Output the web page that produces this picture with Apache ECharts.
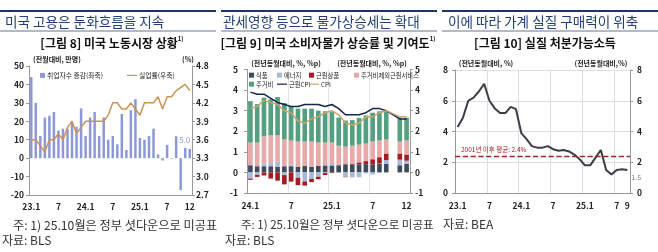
<!DOCTYPE html>
<html>
<head>
<meta charset="utf-8">
<script src="https://cdn.jsdelivr.net/npm/echarts@6/dist/echarts.min.js"></script>
<style>
html, body { margin: 0; padding: 0; background: #fff; }
#chart { width: 658px; height: 252px; }
</style>
</head>
<body>
<div id="chart"></div>
<script>
var FONT = "'Noto Sans CJK KR', 'Noto Sans', sans-serif";

// [그림 8] 미국 노동시장
var months1 = ['23.1','23.2','23.3','23.4','23.5','23.6','23.7','23.8','23.9','23.10','23.11','23.12',
               '24.1','24.2','24.3','24.4','24.5','24.6','24.7','24.8','24.9','24.10','24.11','24.12',
               '25.1','25.2','25.3','25.4','25.5','25.6','25.7','25.8','25.9','25.10','25.11','25.12'];
var jobs = [44, 30, 12, 22, 23, 25, 15, 16, 16, 19, 17, 27,
            12, 22, 25, 12, 22, 10, 12, 7.5, 24, 4.4, 26, 32,
            11, 10, 12, 16, 2, -1.3, 7.2, -0.4, 11.9, -17.3, 5.6, 5.0];
var unemp = [3.6, 3.6, 3.5, 3.4, 3.6, 3.6, 3.7, 3.6, 3.8, 3.9, 3.7, 3.8,
             3.9, 3.9, 3.9, 3.9, 3.9, 4.0, 4.2, 4.2, 4.1, 4.1, 4.2, 4.1,
             4.0, 4.2, 4.2, 4.2, 4.3, 4.1, 4.3, 4.3, 4.4, null, 4.5, 4.4];

// [그림 9] 미국 소비자물가 상승률 및 기여도
var months2 = ['24.1','24.2','24.3','24.4','24.5','24.6','24.7','24.8','24.9','24.10','24.11','24.12',
               '25.1','25.2','25.3','25.4','25.5','25.6','25.7','25.8','25.9','25.10','25.11','25.12'];
var food = [0.35,0.30,0.30,0.30,0.28,0.30,0.30,0.28,0.31,0.28,0.32,0.34,
            0.34,0.35,0.40,0.38,0.39,0.40,0.39,0.43,0.42,null,0.35,0.42];
var energy = [-0.30,-0.12,0.14,0.17,0.24,-0.13,0.07,-0.26,-0.44,-0.32,-0.21,-0.03,
              0.07,-0.01,-0.21,-0.24,-0.23,-0.05,-0.10,0.01,0.18,null,0.27,0.15];
var coreGoods = [-0.06,-0.10,-0.15,-0.30,-0.40,-0.45,-0.45,-0.36,-0.20,-0.15,-0.12,-0.10,
                 -0.03,0.00,-0.02,0.05,0.10,0.15,0.25,0.30,0.32,null,0.30,0.30];
var servEx = [1.10,1.15,1.31,1.33,1.28,1.30,1.18,1.22,1.19,1.22,1.13,1.11,
              1.04,0.95,0.85,0.87,0.86,0.85,0.86,0.81,0.68,null,0.58,0.68];
var shelter = [2.01,1.87,1.88,1.75,1.86,1.77,1.66,1.60,1.60,1.60,1.55,1.52,
               1.48,1.36,1.27,1.24,1.30,1.37,1.40,1.42,1.35,null,1.16,1.11];
var coreCpi = [3.9,3.8,3.8,3.6,3.4,3.3,3.2,3.2,3.3,3.3,3.3,3.2,
               3.3,3.1,2.8,2.8,2.8,2.9,3.1,3.1,3.0,null,2.6,2.6];
var cpi = [3.1,3.2,3.5,3.4,3.3,3.0,2.9,2.5,2.4,2.6,2.7,2.9,
           3.0,2.8,2.4,2.3,2.4,2.7,2.7,2.9,3.0,null,2.7,2.7];

// [그림 10] 실질 처분가능소득
var months3 = ['23.1','23.2','23.3','23.4','23.5','23.6','23.7','23.8','23.9','23.10','23.11','23.12',
               '24.1','24.2','24.3','24.4','24.5','24.6','24.7','24.8','24.9','24.10','24.11','24.12',
               '25.1','25.2','25.3','25.4','25.5','25.6','25.7','25.8','25.9'];
var rdi = [4.3,4.9,6.0,6.2,6.6,7.1,6.0,5.5,5.2,5.2,5.6,5.45,
           3.9,3.5,3.05,2.95,2.95,3.05,2.85,2.75,2.8,2.7,2.5,2.2,
           1.8,1.8,2.3,2.8,1.5,1.2,1.5,1.55,1.5];
var avg2001 = 2.4;

var labelIdx1 = [0, 6, 12, 18, 24, 30, 35];
var labelIdx2 = [0, 6, 12, 18, 23];
var labelIdx3 = [0, 6, 12, 18, 24, 30, 32];

function monthLabel(v) {
    var p = v.split('.');
    return p[1] === '1' ? v : p[1];
}

var tickText = { fontSize: 8.5, color: '#222', fontWeight: 'bold', fontFamily: FONT };
var axisGray = { color: '#9a9a9a', width: 1 };
var LINE_ICON = 'path://M0,0h20v2.4h-20z';

function catAxis(grid, data, idx, margin) {
    return {
        type: 'category', gridIndex: grid, data: data,
        axisLine: { show: true, onZero: false, lineStyle: axisGray },
        axisTick: { show: false },
        axisLabel: Object.assign({}, tickText, {
            margin: margin,
            interval: function (i) { return idx.indexOf(i) >= 0; },
            formatter: monthLabel
        }),
        splitLine: { show: false }
    };
}

function valAxis(grid, pos, min, max, step, margin, digits) {
    return {
        type: 'value', gridIndex: grid, position: pos, min: min, max: max, interval: step,
        axisLine: { show: true, lineStyle: axisGray },
        axisTick: { show: true, length: 3, lineStyle: axisGray },
        axisLabel: Object.assign({}, tickText, {
            margin: margin,
            formatter: function (v) { return digits ? v.toFixed(digits) : String(Math.round(v)); }
        }),
        splitLine: { show: false }
    };
}

function legendAt(name, left, top, w, h, icon, size) {
    return {
        data: [{ name: name, icon: icon || 'rect' }], left: left, top: top, padding: 0,
        itemWidth: w, itemHeight: h, selectedMode: false,
        textStyle: { fontSize: size || 6.3, color: '#222', fontFamily: FONT, padding: [0, 0, 0, -3] }
    };
}

function txt(x, y, text, size, color, align, weight) {
    return {
        type: 'text', x: x, y: y, silent: true,
        style: {
            text: text, fill: color, align: align || 'left', verticalAlign: 'middle',
            fontSize: size, fontFamily: FONT, fontWeight: weight || 'normal'
        }
    };
}

function header(x0, x1, title, titleX, sub, subX) {
    return [
        { type: 'rect', shape: { x: x0, y: 10, width: x1 - x0, height: 2 }, style: { fill: '#1f3563' } },
        txt(titleX, 22, title, 13.6, '#233f78', 'left'),
        { type: 'rect', shape: { x: x0, y: 30.5, width: x1 - x0, height: 1 }, style: { fill: '#6b7591' } },
        {
            type: 'text', x: subX, y: 43, silent: true,
            style: {
                text: '{a|' + sub + '}{s|1)}',
                align: 'center', verticalAlign: 'middle',
                rich: {
                    a: { fontSize: 12, fontWeight: 'bold', fontFamily: FONT, fill: '#111', lineHeight: 14 },
                    s: { fontSize: 6, fontWeight: 'bold', fontFamily: FONT, fill: '#111', verticalAlign: 'top', lineHeight: 14 }
                }
            }
        }
    ];
}

var graphics = []
    .concat(header(0, 216, '미국 고용은 둔화흐름을 지속', 5, '[그림 8] 미국 노동시장 상황', 112))
    .concat(header(221, 437, '관세영향 등으로 물가상승세는 확대', 223, '[그림 9] 미국 소비자물가 상승률 및 기여도', 328))
    .concat([
        { type: 'rect', shape: { x: 442, y: 10, width: 216, height: 2 }, style: { fill: '#1f3563' } },
        txt(448, 22, '이에 따라 가계 실질 구매력이 위축', 13.6, '#233f78', 'left'),
        { type: 'rect', shape: { x: 442, y: 30.5, width: 216, height: 1 }, style: { fill: '#6b7591' } },
        txt(545, 43, '[그림 10] 실질 처분가능소득', 12, '#111', 'center', 'bold')
    ])
    .concat([
        txt(57, 59, '(전월대비, 만명)', 7, '#222', 'center', 'bold'),
        txt(188, 59, '(%)', 7, '#222', 'center', 'bold'),
        txt(286, 63, '(전년동월대비, %, %p)', 7, '#222', 'center', 'bold'),
        txt(372, 63, '(전년동월대비, %, %p)', 7, '#222', 'center', 'bold'),
        txt(486, 63, '(전년동월대비, %)', 7, '#222', 'center', 'bold'),
        txt(601, 63, '(전년동월대비,%)', 7, '#222', 'center', 'bold'),
        txt(13, 225, '주: 1) 25.10월은 정부 셧다운으로 미공표', 12.2, '#333'),
        txt(2, 240, '자료: BLS', 12, '#333'),
        txt(241, 225, '주: 1) 25.10월은 정부 셧다운으로 미공표', 11.5, '#333'),
        txt(225, 240, '자료: BLS', 12, '#333'),
        txt(443, 224, '자료: BEA', 12, '#333')
    ]);

var last1 = jobs.length - 1;

var option = {
    animation: false,
    textStyle: { fontFamily: FONT },
    graphic: graphics,
    legend: [
        legendAt('취업자수 증감(좌축)', 40, 72, 5, 5, 'rect', 6.8),
        legendAt('실업률(우축)', 127, 72, 10, 5, LINE_ICON, 6.8),
        legendAt('식품', 249, 72, 5, 5),
        legendAt('에너지', 277, 72, 5, 5),
        legendAt('근원상품', 309, 72, 5, 5),
        legendAt('주거비제외근원서비스', 354, 72, 5, 5),
        legendAt('주거비', 249, 81, 5, 5),
        legendAt('근원CPI', 277, 81, 10, 5, LINE_ICON),
        legendAt('CPI', 309, 81, 10, 5, LINE_ICON)
    ],
    grid: [
        { left: 29, top: 66, width: 163, height: 129 },
        { left: 247, top: 69.5, width: 163, height: 123.5 },
        { left: 455, top: 70, width: 175, height: 123 }
    ],
    xAxis: [
        catAxis(0, months1, labelIdx1, 8),
        (function () {
            var a = catAxis(1, months2, labelIdx2, 9);
            a.splitLine = { show: true, interval: function (i) { return i > 0 && i % 6 === 0; }, lineStyle: { color: '#e2e2e2' } };
            return a;
        })(),
        (function () {
            var a = catAxis(2, months3, labelIdx3, 9);
            a.splitLine = { show: true, interval: function (i) { return i > 0 && i % 6 === 0; }, lineStyle: { color: '#dedede' } };
            return a;
        })()
    ],
    yAxis: [
        valAxis(0, 'left', -20, 50, 10, 5, 0),
        valAxis(0, 'right', 2.7, 4.8, 0.3, 4, 1),
        valAxis(1, 'left', -1, 5, 1, 9, 0),
        valAxis(1, 'right', -1, 5, 1, 5, 0),
        (function () {
            var a = valAxis(2, 'left', 0, 8, 2, 7, 0);
            a.splitLine = { show: true, lineStyle: { color: '#dedede' } };
            return a;
        })(),
        valAxis(2, 'right', 0, 8, 2, 7, 0)
    ],
    series: [
        {
            name: '취업자수 증감(좌축)', type: 'bar', xAxisIndex: 0, yAxisIndex: 0,
            data: jobs, barWidth: '55%', itemStyle: { color: '#8d98d8' },
            label: {
                show: true, position: 'top', offset: [-5, 0], fontSize: 8, color: '#8d98d8', fontFamily: FONT,
                formatter: function (p) { return p.dataIndex === last1 ? p.value.toFixed(1) : ''; }
            }
        },
        {
            name: '실업률(우축)', type: 'line', xAxisIndex: 0, yAxisIndex: 1,
            data: unemp, symbol: 'none', connectNulls: true,
            lineStyle: { color: '#cd9252', width: 1.5 }, itemStyle: { color: '#cd9252' },
            label: {
                show: true, position: 'bottom', offset: [-5, 7], fontSize: 8, color: '#cd9252', fontFamily: FONT,
                formatter: function (p) { return p.dataIndex === last1 ? p.value.toFixed(1) : ''; }
            },
            z: 3
        },
        { name: '식품', type: 'bar', stack: 'cpi', xAxisIndex: 1, yAxisIndex: 2, data: food, barWidth: '68%', itemStyle: { color: '#3d4b5c' } },
        { name: '에너지', type: 'bar', stack: 'cpi', xAxisIndex: 1, yAxisIndex: 2, data: energy, itemStyle: { color: '#a9b7dd' } },
        { name: '근원상품', type: 'bar', stack: 'cpi', xAxisIndex: 1, yAxisIndex: 2, data: coreGoods, itemStyle: { color: '#a61b22' } },
        { name: '주거비제외근원서비스', type: 'bar', stack: 'cpi', xAxisIndex: 1, yAxisIndex: 2, data: servEx, itemStyle: { color: '#e7aaa9' } },
        { name: '주거비', type: 'bar', stack: 'cpi', xAxisIndex: 1, yAxisIndex: 2, data: shelter, itemStyle: { color: '#52a07f' } },
        {
            name: '근원CPI', type: 'line', xAxisIndex: 1, yAxisIndex: 2, data: coreCpi,
            symbol: 'none', connectNulls: true, z: 4,
            lineStyle: { color: '#16264a', width: 1.5 }, itemStyle: { color: '#16264a' }
        },
        {
            name: 'CPI', type: 'line', xAxisIndex: 1, yAxisIndex: 2, data: cpi,
            symbol: 'none', connectNulls: true, z: 4,
            lineStyle: { color: '#c8a46e', width: 1.5 }, itemStyle: { color: '#c8a46e' }
        },
        {
            name: '실질 처분가능소득', type: 'line', xAxisIndex: 2, yAxisIndex: 4, data: rdi,
            symbol: 'none', lineStyle: { color: '#3b3e47', width: 2 }, itemStyle: { color: '#3b3e47' },
            endLabel: { show: true, offset: [-4, 7], fontSize: 7, color: '#777', fontFamily: FONT,
                        formatter: function (p) { return p.value.toFixed(1); } },
            markLine: {
                silent: true, symbol: 'none',
                lineStyle: { color: '#a4232a', type: 'dashed', width: 1.3 },
                label: { position: 'insideStartTop', formatter: '2001년 이후 평균: ' + avg2001 + '%',
                         fontSize: 6.5, color: '#a4232a', fontFamily: FONT, distance: [6, 3] },
                data: [{ yAxis: avg2001 }]
            }
        }
    ]
};

var myChart = echarts.init(document.getElementById('chart'));
myChart.setOption(option);
</script>
</body>
</html>
